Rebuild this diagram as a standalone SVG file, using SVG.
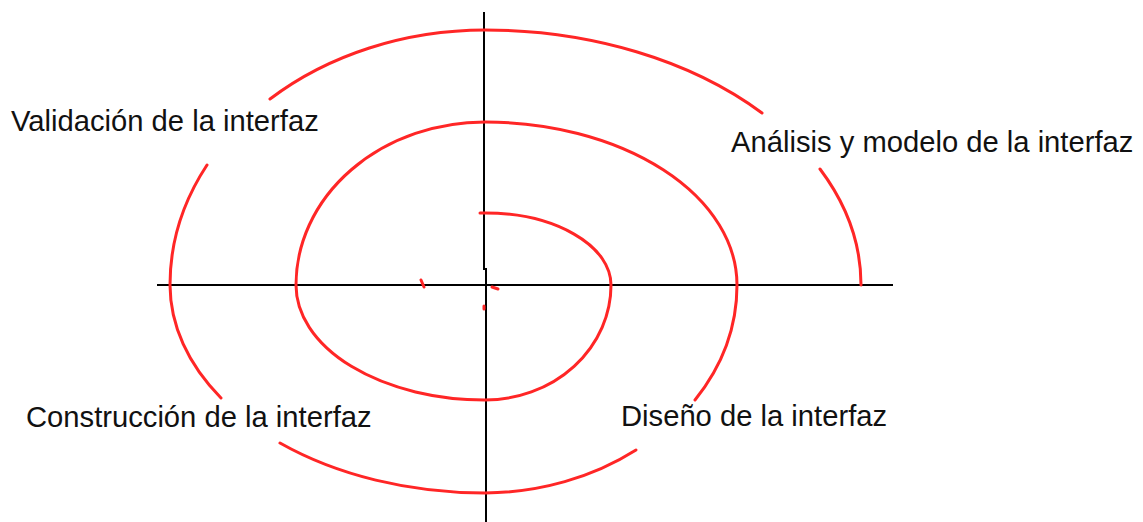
<svg xmlns="http://www.w3.org/2000/svg" width="1143" height="522" viewBox="0 0 1143 522">
<style>
.ax{stroke:#000;stroke-width:2;fill:none}
.sp{stroke:#ff2626;stroke-width:3;fill:none;stroke-linecap:round}
.lb{font-family:"Liberation Sans",Arial,sans-serif;font-size:29.2px;fill:#111}
</style>
<rect width="1143" height="522" fill="#fff"/>
<g id="axes">
<line class="ax" x1="157" y1="285" x2="893" y2="285"/>
<line class="ax" x1="484" y1="12" x2="484" y2="270"/>
<line class="ax" x1="486" y1="268" x2="486" y2="522"/>
</g>
<g id="spiral">
<path class="sp" d="M480,213 L485,213 A126,72 0 0 1 611,285 A126,115 0 0 1 485,400 A189,115 0 0 1 296,285 A189,163 0 0 1 485,122 A252,163 0 0 1 737,285 A252,208 0 0 1 695,400"/>
<path class="sp" d="M636,450 A252,208 0 0 1 485,493 A315,208 0 0 1 280,443"/>
<path class="sp" d="M221,398 A315,208 0 0 1 170,285 A315,255 0 0 1 207,165"/>
<path class="sp" d="M270,99 A315,255 0 0 1 485,30 A376,255 0 0 1 762,113"/>
<path class="sp" d="M820,169 A376,255 0 0 1 861,285"/>
<path class="sp" stroke-width="2.5" d="M421,280 L424,287 M492,287 L498,289 M484,306 L484,309"/>
</g>
<g id="labels">
<text class="lb" x="11" y="131">Validación de la interfaz</text>
<text class="lb" x="731" y="152">Análisis y modelo de la interfaz</text>
<text class="lb" x="26" y="427">Construcción de la interfaz</text>
<text class="lb" x="621" y="426">Diseño de la interfaz</text>
</g>
</svg>
